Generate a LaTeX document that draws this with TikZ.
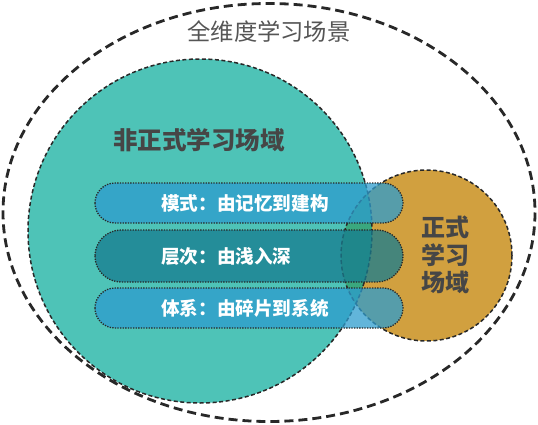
\documentclass[tikz,border=0pt]{standalone}
\usepackage{fontspec}
\newfontfamily\cjk{Noto Sans CJK SC}
\definecolor{tealc}{RGB}{78,195,183}
\definecolor{orangec}{RGB}{209,160,63}
\definecolor{lensc}{RGB}{58,168,126}
\definecolor{pillc}{RGB}{45,156,206}
\definecolor{pilldark}{RGB}{23,124,144}
\definecolor{linec}{RGB}{40,40,40}
\definecolor{labelc}{RGB}{70,70,70}
\definecolor{titlec}{RGB}{85,85,85}
\tikzset{
  outerline/.style={draw=linec, line width=2.8pt, dash pattern=on 9pt off 5pt},
  circline/.style={draw=linec, line width=1.5pt, dash pattern=on 4pt off 2.5pt},
  pillbox/.style={rounded corners=#1, draw=linec, line width=1.3pt, dash pattern=on 1.3pt off 1.3pt, fill opacity=0.75},
  pilltext/.style={anchor=west, text=white, font=\cjk\bfseries\fontsize{18.6}{20}\selectfont, inner sep=0pt},
  bigtext/.style={text=labelc, font=\cjk\bfseries\fontsize{24.5}{28}\selectfont, inner sep=0pt, align=center}
}
\begin{document}
\begin{tikzpicture}[x=1pt,y=-1pt]
\useasboundingbox (0,0) rectangle (538,425);
% outer ellipse
\draw[outerline] (269,212.5) ellipse [x radius=266, y radius=209];
\node[text=titlec, font=\cjk\fontsize{23.3}{26}\selectfont, inner sep=0pt] (scene) at (269,32) {全维度学习场景};
% circles
\fill[tealc] (200,231) circle [radius=172];
\fill[orangec] (426.5,255.5) circle [radius=85.5];
\begin{scope}
  \clip (200,231) circle [radius=172];
  \fill[lensc] (426.5,255.5) circle [radius=85.5];
\end{scope}
\draw[circline] (200,231) circle [radius=172];
\draw[circline] (426.5,255.5) circle [radius=85.5];
% pills
\filldraw[pillbox=20pt, fill=pillc] (95,183) rectangle (403,223);
\filldraw[pillbox=26pt, fill=pilldark] (95,230) rectangle (403,282);
\filldraw[pillbox=20pt, fill=pillc] (95,288) rectangle (403,328);
% texts
\node[pilltext] (p1) at (161,203) {模式：由记忆到建构};
\node[pilltext] (p2) at (161,256) {层次：由浅入深};
\node[pilltext] (p3) at (161,308) {体系：由碎片到系统};
\node[bigtext] (nf) at (199,140) {非正式学习场域};
\node[bigtext, font=\cjk\bfseries\fontsize{24}{28}\selectfont] (f) at (445,255) {正式\\[-0.5pt]学习\\[-0.5pt]场域};
\end{tikzpicture}
\end{document}
